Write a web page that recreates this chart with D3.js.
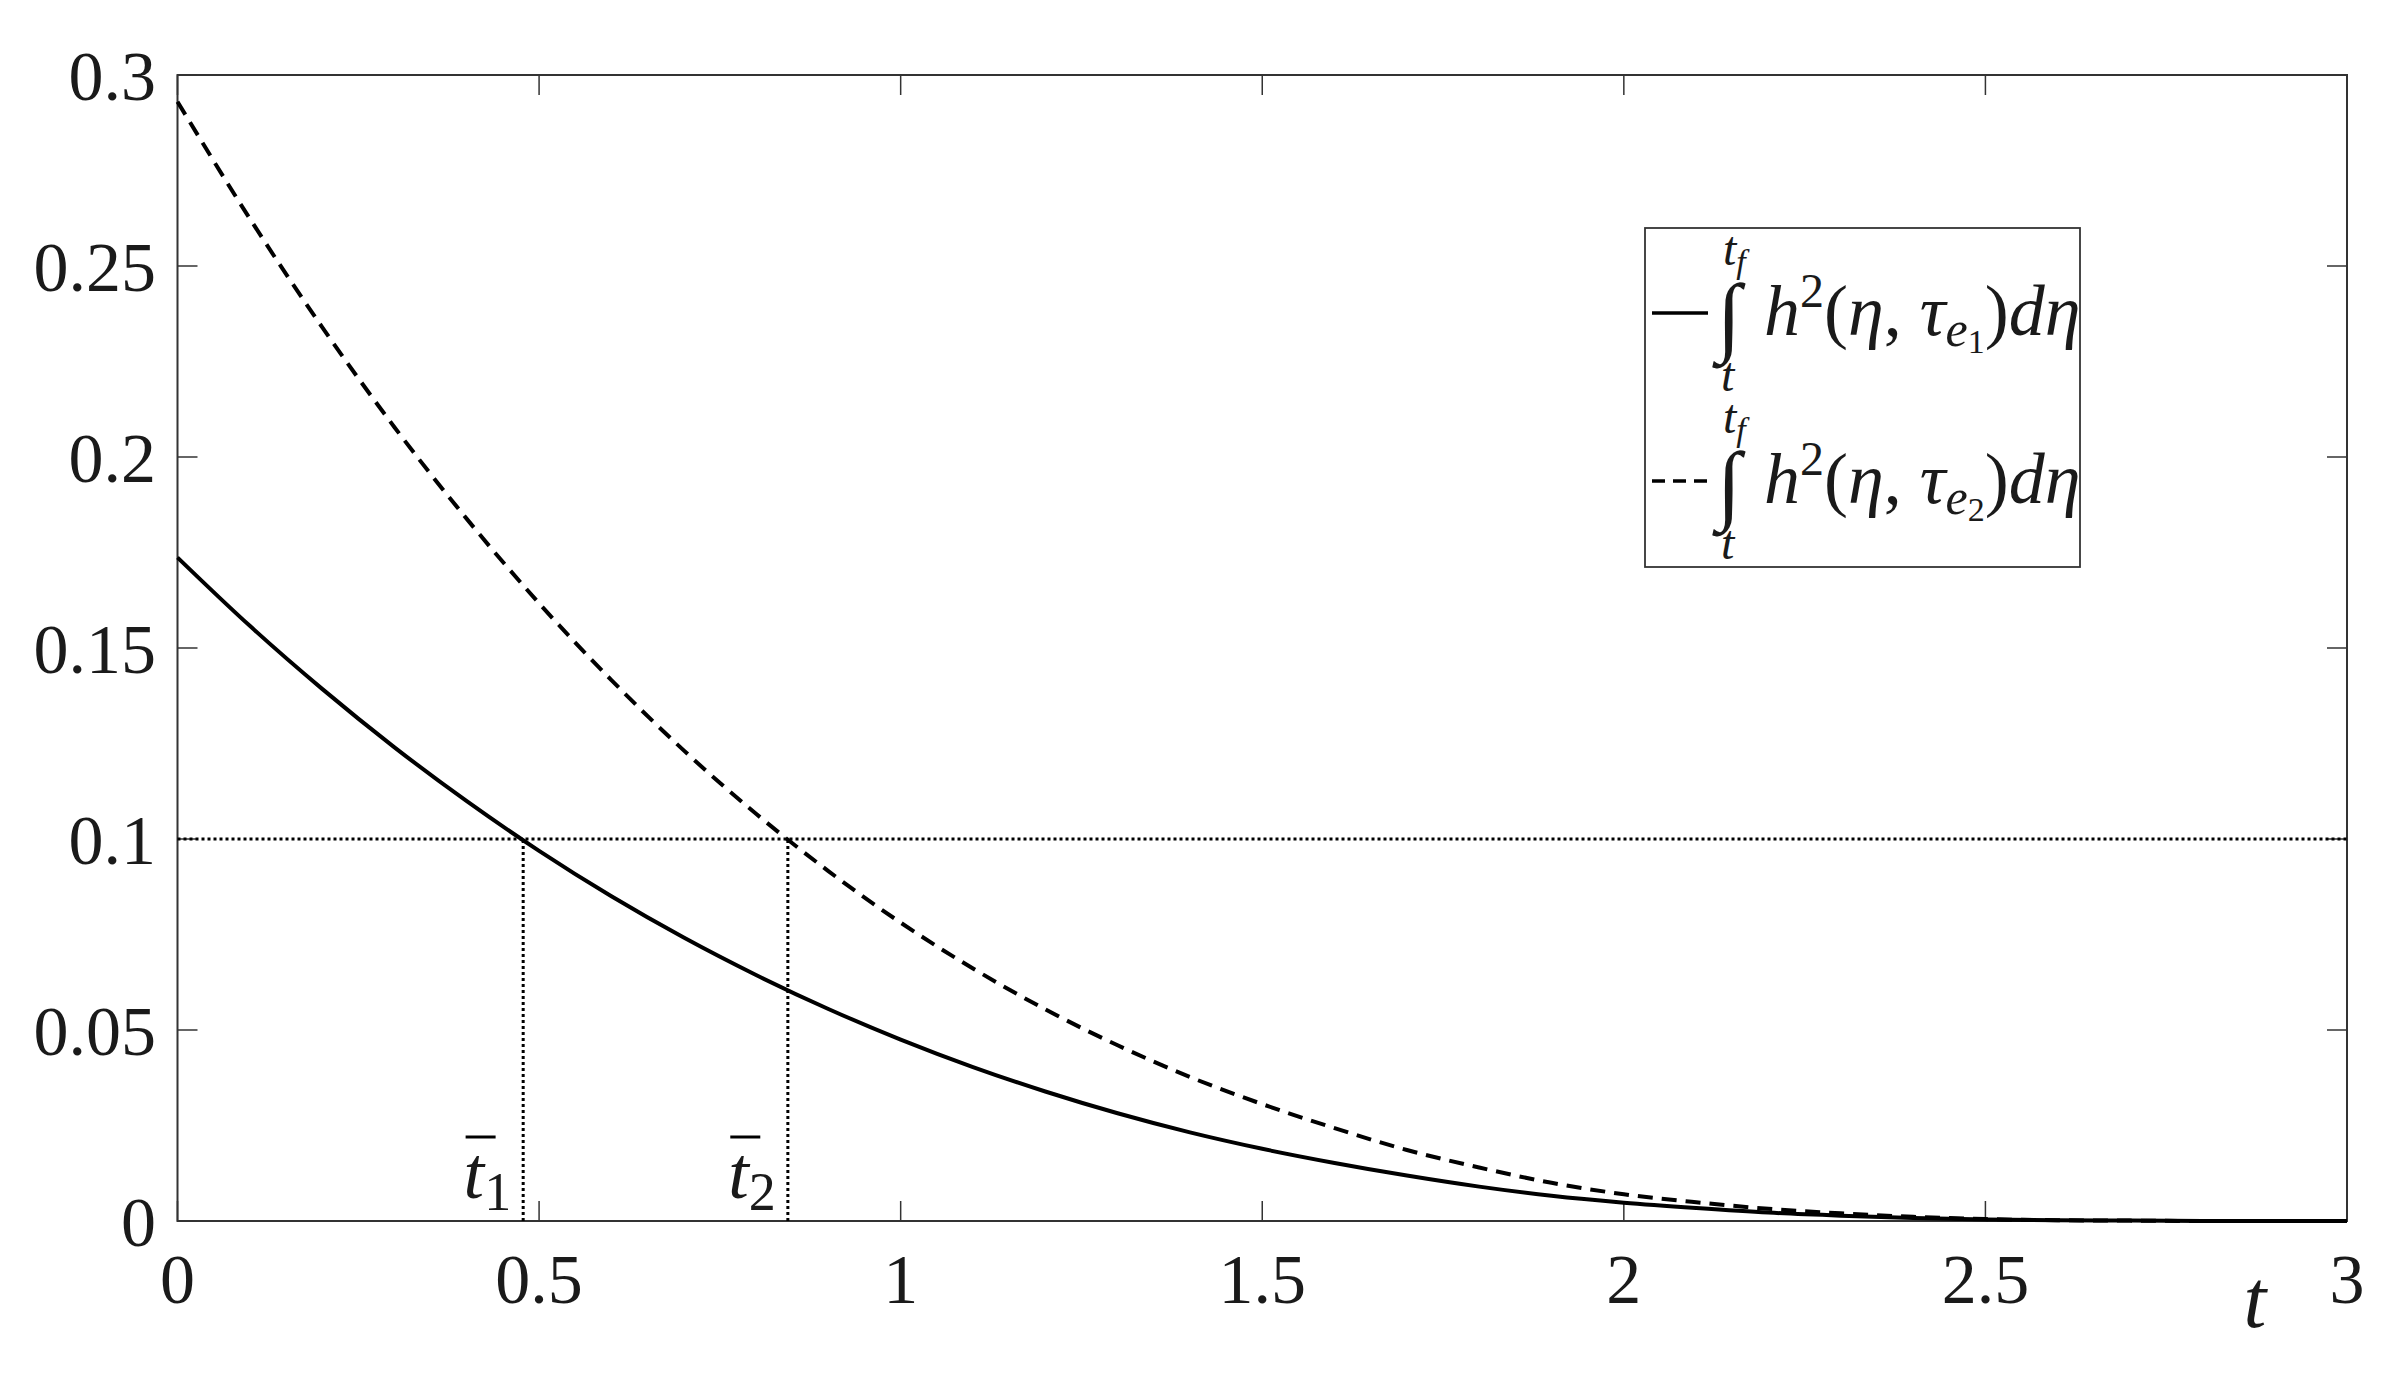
<!DOCTYPE html>
<html>
<head>
<meta charset="utf-8">
<script src="https://cdn.jsdelivr.net/npm/d3@7"></script>
<style>
html,body{margin:0;padding:0;background:#fff;}
svg text{font-family:"Liberation Serif","Times New Roman",serif;fill:#1a1a1a;}
</style>
</head>
<body>
<svg id="chart" width="2401" height="1373"></svg>
<script>
// ---- data ----
const tValues = [0,0.1,0.2,0.3,0.4,0.5,0.6,0.7,0.8,0.9,1.0,1.1,1.2,1.3,1.4,1.5,1.6,1.7,1.8,1.9,2.0,2.1,2.2,2.3,2.4,2.5,2.6,2.7,2.8,2.9,3.0];
const series1 = [0.1737,0.1558,0.1393,0.1240,0.1099,0.0969,0.0850,0.0742,0.0644,0.0555,0.0475,0.0403,0.0339,0.0282,0.0232,0.0189,0.0152,0.0119,0.0090,0.0066,0.0048,0.0034,0.0022,0.0014,0.0008,0.0004,0.0002,0.0001,0.00003,0,0];
const series2 = [0.2930,0.2624,0.2340,0.2078,0.1838,0.1617,0.1416,0.1232,0.1066,0.0916,0.0781,0.0661,0.0554,0.0460,0.0377,0.0306,0.0243,0.0186,0.0140,0.0100,0.0070,0.0049,0.0032,0.0020,0.0011,0.0005,0.0002,0.0001,0,0,0];
const threshold = 0.1;
const crossings = [0.478, 0.844];
const crossingLabels = ["1","2"];
const xTicks = [0,0.5,1,1.5,2,2.5,3];
const xTickLabels = ["0","0.5","1","1.5","2","2.5","3"];
const yTicks = [0,0.05,0.1,0.15,0.2,0.25,0.3];
const yTickLabels = ["0","0.05","0.1","0.15","0.2","0.25","0.3"];
const legendSubs = ["1","2"];

// ---- layout ----
const L = 177.5, R = 2347, T = 75, B = 1221;
const svg = d3.select("#chart");
const x = d3.scaleLinear().domain([0,3]).range([L,R]);
const y = d3.scaleLinear().domain([0,0.3]).range([B,T]);
const tickLen = 20;
const axisColor = "#333";

// frame
svg.append("rect").attr("x",L).attr("y",T).attr("width",R-L).attr("height",B-T)
  .attr("fill","none").attr("stroke",axisColor).attr("stroke-width",2);

// ticks (inward, all four sides)
const tg = svg.append("g").attr("stroke",axisColor).attr("stroke-width",1.5);
xTicks.forEach(v=>{
  tg.append("line").attr("x1",x(v)).attr("x2",x(v)).attr("y1",B).attr("y2",B-tickLen);
  tg.append("line").attr("x1",x(v)).attr("x2",x(v)).attr("y1",T).attr("y2",T+tickLen);
});
yTicks.forEach(v=>{
  tg.append("line").attr("x1",L).attr("x2",L+tickLen).attr("y1",y(v)).attr("y2",y(v));
  tg.append("line").attr("x1",R).attr("x2",R-tickLen).attr("y1",y(v)).attr("y2",y(v));
});

// tick labels
const fs = 70;
xTicks.forEach((v,i)=>{
  svg.append("text").attr("x",x(v)).attr("y",1303).attr("text-anchor","middle")
    .attr("font-size",fs).text(xTickLabels[i]);
});
yTicks.forEach((v,i)=>{
  svg.append("text").attr("x",156).attr("y",y(v)).attr("dy","0.35em").attr("text-anchor","end")
    .attr("font-size",fs).text(yTickLabels[i]);
});
// axis label t
svg.append("text").attr("x",2255).attr("y",1327).attr("text-anchor","middle")
  .attr("font-size",82).attr("font-style","italic").text("t");

// threshold dotted lines
const dotted = "3,3";
svg.append("line").attr("x1",x(0)).attr("x2",x(3)).attr("y1",y(threshold)).attr("y2",y(threshold))
  .attr("stroke","#000").attr("stroke-width",3).attr("stroke-dasharray",dotted);
crossings.forEach(c=>{
  svg.append("line").attr("x1",x(c)).attr("x2",x(c)).attr("y1",y(0)).attr("y2",y(threshold))
    .attr("stroke","#000").attr("stroke-width",3).attr("stroke-dasharray",dotted);
});

// curves
const line = d3.line().x((d,i)=>x(tValues[i])).y(d=>y(d)).curve(d3.curveMonotoneX);
svg.append("path").attr("d",line(series2)).attr("fill","none").attr("stroke","#000")
  .attr("stroke-width",4).attr("stroke-dasharray","15,9");
svg.append("path").attr("d",line(series1)).attr("fill","none").attr("stroke","#000")
  .attr("stroke-width",4);

// t-bar labels
crossings.forEach((c,i)=>{
  const g = svg.append("g");
  const tx = g.append("text").attr("x",x(c)-12).attr("y",1198).attr("text-anchor","end")
    .attr("font-size",74);
  tx.append("tspan").attr("font-style","italic").text("t");
  tx.append("tspan").attr("font-size",54).attr("dy",12).text(crossingLabels[i]);
  const bb = tx.node().getBBox();
  g.append("line").attr("x1",bb.x+2).attr("x2",bb.x+32).attr("y1",1137).attr("y2",1137)
    .attr("stroke","#000").attr("stroke-width",3);
});

// legend
const lg = svg.append("g");
lg.append("rect").attr("x",1645).attr("y",228).attr("width",435).attr("height",339)
  .attr("fill","#fff").attr("stroke","#333").attr("stroke-width",1.8);
const entries = [{base:335, dash:null},{base:503, dash:"13,8"}];
entries.forEach((e,i)=>{
  lg.append("line").attr("x1",1652).attr("x2",1708).attr("y1",e.base-22).attr("y2",e.base-22)
    .attr("stroke","#000").attr("stroke-width",3.5).attr("stroke-dasharray",e.dash);
  // integral sign
  lg.append("text").attr("x",1729).attr("y",e.base+10).attr("text-anchor","middle")
    .attr("font-family","DejaVu Serif").attr("font-size",88).text("\u222B");
  // upper limit t_f
  const up = lg.append("text").attr("x",1723).attr("y",e.base-70).attr("font-size",48);
  up.append("tspan").attr("font-style","italic").text("t");
  up.append("tspan").attr("font-style","italic").attr("font-size",34).attr("dy",8).text("f");
  // lower limit t
  lg.append("text").attr("x",1721).attr("y",e.base+56).attr("font-size",48)
    .attr("font-style","italic").text("t");
  // main expression
  const m = lg.append("text").attr("x",1764).attr("y",e.base).attr("font-size",72);
  m.append("tspan").attr("font-style","italic").text("h");
  m.append("tspan").attr("font-size",48).attr("dy",-28).text("2");
  m.append("tspan").attr("dy",28).text("(");
  m.append("tspan").attr("font-style","italic").text("η");
  m.append("tspan").text(", ");
  m.append("tspan").attr("font-style","italic").text("τ");
  m.append("tspan").attr("font-style","italic").attr("font-size",50).attr("dy",11).text("e");
  m.append("tspan").attr("font-size",34).attr("dy",7).text(legendSubs[i]);
  m.append("tspan").attr("dy",-18).text(")");
  m.append("tspan").attr("font-style","italic").text("dη");
});
</script>
</body>
</html>
